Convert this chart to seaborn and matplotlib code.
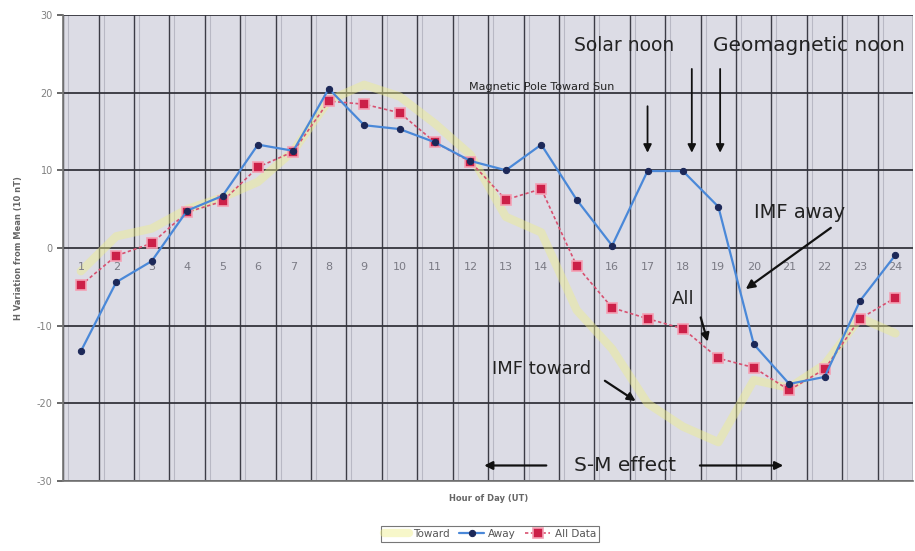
import matplotlib
matplotlib.use("Agg")
import matplotlib.pyplot as plt
import seaborn as sns
import numpy as np
import pandas as pd

# Hour of day (UT)
hours = list(range(1, 25))

# H variation from mean (10 nT) per hour
toward = [-3.0, 1.5, 2.5, 5.0, 6.5, 8.5, 12.5, 19.0, 21.0, 19.5, 16.0, 12.0,
          4.0, 2.0, -8.0, -13.0, -20.0, -23.0, -25.0, -17.0, -18.0, -15.0, -9.0, -11.0]
away = [-13.3, -4.4, -1.7, 4.8, 6.7, 13.3, 12.5, 20.5, 15.8, 15.3, 13.6, 11.2,
        10.0, 13.3, 6.2, 0.3, 9.9, 9.9, 5.3, -12.4, -17.5, -16.6, -6.8, -0.9]
all_data = [-4.8, -1.0, 0.6, 4.6, 6.0, 10.4, 12.4, 18.9, 18.5, 17.4, 13.6, 11.1,
            6.2, 7.6, -2.3, -7.7, -9.1, -10.4, -14.2, -15.4, -18.3, -15.6, -9.1, -6.4]

y_ticks = [-30, -20, -10, 0, 10, 20, 30]

df = pd.DataFrame({"hour": hours, "Toward": toward, "Away": away, "All Data": all_data})

sns.set_theme(style="white")
plt.rcParams["font.family"] = ["DejaVu Sans"]

fig = plt.figure(figsize=(9.15, 5.51), dpi=100)
ax = fig.add_axes([0.069, 0.127, 0.929, 0.846])
ax.set_facecolor("#dcdce5")

# grid: dark lines on hour boundaries, faint companions beside them
for k in range(25):
    b = 0.5 + k
    ax.axvline(b, color="#3c3c46", lw=1.0, zorder=1)
    if k < 24:
        ax.axvline(b + 0.14, color="#b8b8c4", lw=0.8, zorder=1)
for v in y_ticks:
    ax.axhline(v, color="#34343c", lw=1.3, zorder=1)

sns.lineplot(data=df, x="hour", y="Toward", ax=ax, color="#eeee8a", lw=6,
             alpha=0.45, label="Toward", zorder=2)
sns.lineplot(data=df, x="hour", y="Away", ax=ax, color="#4a88d8", lw=1.6,
             marker="o", markersize=4.5, markerfacecolor="#1c2858",
             markeredgecolor="#1c2858", label="Away", zorder=4)
sns.lineplot(data=df, x="hour", y="All Data", ax=ax, color="#d85070", lw=1.2,
             linestyle=(0, (2, 1.5)), marker="s", markersize=7,
             markerfacecolor="#cc2048", markeredgecolor="#f4a0b4", markeredgewidth=1.2,
             label="All Data", zorder=3)

# hour numbers along the zero line
for h in hours:
    ax.text(h, -2.4, str(h), ha="center", va="center", fontsize=8, color="#7a7a84", zorder=2)

ax.set_xlim(0.5, 24.5)
ax.set_ylim(-30, 30)
ax.set_xticks([])
ax.set_yticks(y_ticks)
ax.set_yticklabels([str(v) for v in y_ticks], fontsize=7, color="#808080")
ax.tick_params(axis="y", length=4, color="#555", left=True)
for s in ["top", "right"]:
    ax.spines[s].set_visible(False)
ax.spines["left"].set_color("#777")
ax.spines["bottom"].set_color("#777")
ax.set_xlabel("Hour of Day (UT)", fontsize=6, color="#666", fontweight="bold", labelpad=9)
ax.set_ylabel("H Variation from Mean (10 nT)", fontsize=6, color="#666", fontweight="bold", labelpad=10)

# annotations
ax.text(16.34, 26.1, "Solar noon", fontsize=13.5, color="#222", ha="center", va="center")
ax.text(21.55, 26.1, "Geomagnetic noon", fontsize=14.5, color="#222", ha="center", va="center")
ax.text(14.0, 20.7, "Magnetic Pole Toward Sun", fontsize=8, color="#222", ha="center", va="center")
arr = dict(arrowstyle="-|>", color="#111", lw=1.3, mutation_scale=12)
ax.annotate("", xy=(17.0, 11.9), xytext=(17.0, 18.6), arrowprops=arr)
ax.annotate("", xy=(18.25, 11.9), xytext=(18.25, 23.4), arrowprops=arr)
ax.annotate("", xy=(19.05, 11.9), xytext=(19.05, 23.4), arrowprops=arr)

ax.text(21.3, 4.6, "IMF away", fontsize=14, color="#222", ha="center", va="center")
ax.annotate("", xy=(19.71, -5.5), xytext=(22.24, 2.8), arrowprops=dict(arrowstyle="-|>", color="#111", lw=1.6, mutation_scale=13))

ax.text(18.0, -6.6, "All", fontsize=13, color="#222", ha="center", va="center")
ax.annotate("", xy=(18.72, -12.4), xytext=(18.48, -8.6), arrowprops=dict(arrowstyle="-|>", color="#111", lw=1.6, mutation_scale=12))

ax.text(14.0, -15.6, "IMF toward", fontsize=13, color="#222", ha="center", va="center")
ax.annotate("", xy=(16.73, -19.9), xytext=(15.73, -16.9), arrowprops=dict(arrowstyle="-|>", color="#111", lw=1.6, mutation_scale=12))

ax.text(16.36, -28.0, "S-M effect", fontsize=14.5, color="#222", ha="center", va="center")
ax.annotate("", xy=(12.31, -28.0), xytext=(14.22, -28.0), arrowprops=dict(arrowstyle="-|>", color="#111", lw=1.6, mutation_scale=12))
ax.annotate("", xy=(20.91, -28.0), xytext=(18.4, -28.0), arrowprops=dict(arrowstyle="-|>", color="#111", lw=1.6, mutation_scale=12))

leg = ax.legend(loc="upper center", bbox_to_anchor=(0.502, -0.085), ncol=3, fontsize=7.5,
                frameon=True, fancybox=False, edgecolor="#555", handlelength=2.4,
                columnspacing=0.9, handletextpad=0.4, borderpad=0.3)
leg.get_frame().set_linewidth(0.8)
for t in leg.get_texts():
    t.set_color("#555")

fig.savefig("out.png", dpi=100, facecolor="white")
